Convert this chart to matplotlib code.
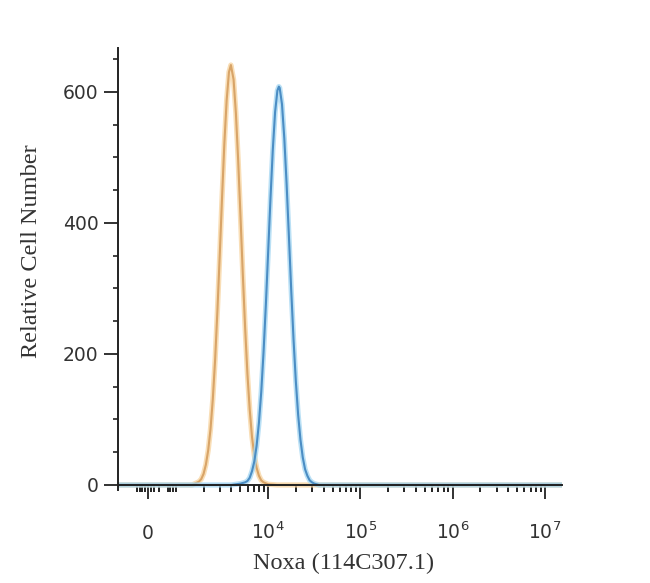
import matplotlib
matplotlib.use("Agg")
import matplotlib.pyplot as plt
from matplotlib.ticker import FixedLocator, MultipleLocator

# ---- data (intensity, relative cell number) ----
orange_x = [-1050, 1000, 1500, 1778, 1884, 1995, 2113, 2239, 2371, 2512, 2661,
            2818, 2985, 3162, 3350, 3548, 3758, 3945, 4217, 4467, 4732, 5012,
            5309, 5623, 5957, 6310, 6683, 7079, 7499, 7943, 8414, 8913, 10000,
            12589, 15300000]
orange_y = [0, 0, 0, 5, 9, 17, 31, 53, 85, 131, 191, 266, 350, 438, 521, 587,
            630, 641, 619, 568, 495, 410, 322, 241, 170, 115, 73, 45, 26, 14,
            7, 4, 1, 0, 0]

blue_x = [-1050, 1000, 4000, 5012, 5309, 5623, 5957, 6310, 6683, 7079, 7499,
          7943, 8414, 8913, 9441, 10000, 10593, 11220, 11885, 12589, 13062,
          13335, 14125, 14962, 15849, 16788, 17783, 18836, 19953, 21135,
          22387, 23714, 25119, 26607, 28184, 29854, 31623, 35481, 15300000]
blue_y = [0, 0, 0, 2, 3, 4, 6, 11, 21, 36, 60, 95, 142, 203, 275, 356, 437,
          511, 569, 602, 608, 606, 581, 529, 459, 379, 297, 222, 158, 107, 69,
          42, 24, 14, 7, 4, 2, 0, 0]

x_major = [0, 1e4, 1e5, 1e6, 1e7]
x_major_labels = ["0", r"$\mathdefault{10^{4}}$", r"$\mathdefault{10^{5}}$",
                  r"$\mathdefault{10^{6}}$", r"$\mathdefault{10^{7}}$"]
x_near_zero_minor = [-400, -300, -200, -100, 100, 200, 400, 700, 800, 900, 1000]
y_major = [0, 200, 400, 600]

x_min, x_max = -1050, 1.53e7
y_min, y_max = -8, 667

# ---- figure ----
fig = plt.figure(figsize=(6.5, 5.83), dpi=100)
ax = fig.add_axes([0.1815, 0.1592, 0.8646 - 0.1815, 0.9177 - 0.1592])

ax.set_xscale("symlog", linthresh=1000, linscale=0.273)

ax.plot(orange_x, orange_y, color="#F7D39E", lw=3.8, alpha=0.75,
        solid_joinstyle="round", zorder=2)
ax.plot(orange_x, orange_y, color="#D8A468", lw=1.5, zorder=2.1)
ax.plot(blue_x, blue_y, color="#A3D6F2", lw=3.8, alpha=0.75,
        solid_joinstyle="round", zorder=2.2)
ax.plot(blue_x, blue_y, color="#4B8DC4", lw=1.5, zorder=2.3)

ax.set_xlim(x_min, x_max)
ax.set_ylim(y_min, y_max)

for s in ["top", "right"]:
    ax.spines[s].set_visible(False)
ax.spines["bottom"].set_position(("data", 0))
for s in ["left", "bottom"]:
    ax.spines[s].set_color("#222222")
    ax.spines[s].set_linewidth(1.4)

# x ticks
minor = list(x_near_zero_minor)
for d in [3, 4, 5, 6]:
    for k in range(2, 10):
        minor.append(k * 10 ** d)
ax.xaxis.set_major_locator(FixedLocator(x_major))
ax.xaxis.set_minor_locator(FixedLocator(minor))
ax.set_xticks(x_major, x_major_labels)
ax.tick_params(axis="x", which="major", direction="out", length=10, width=1.3,
               color="#222222", pad=29, labelsize=13.5, labelcolor="#333333")
ax.tick_params(axis="x", which="minor", direction="out", length=5, width=1.4,
               color="#222222")
for lab in ax.get_xticklabels():
    lab.set_va("baseline")
    lab.set_family("DejaVu Sans")

# y ticks
ax.yaxis.set_major_locator(FixedLocator(y_major))
ax.yaxis.set_minor_locator(MultipleLocator(50))
ax.tick_params(axis="y", which="major", direction="out", length=10, width=1.3,
               color="#222222", pad=4, labelsize=13.5, labelcolor="#333333")
ax.tick_params(axis="y", which="minor", direction="out", length=3.6, width=1.2,
               color="#222222")

ax.set_xlabel("Noxa (114C307.1)", family="Liberation Serif", fontsize=17.5,
              color="#333333")
ax.set_ylabel("Relative Cell Number", family="Liberation Serif", fontsize=17.5,
              color="#333333")
ax.xaxis.set_label_coords(0.507, -0.142)
ax.xaxis.label.set_va("top")
ax.yaxis.set_label_coords(-0.171, 0.541)

fig.savefig("out.png", dpi=100)
